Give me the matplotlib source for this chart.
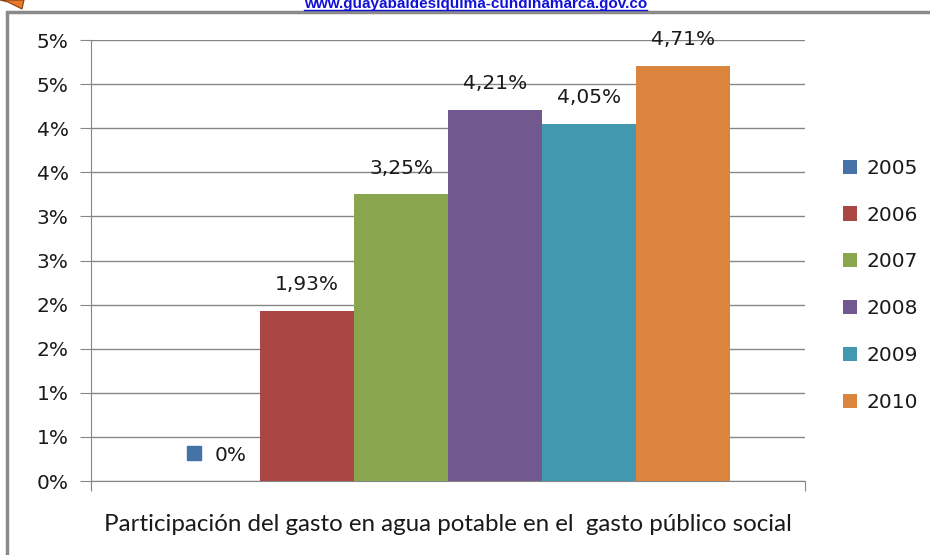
import matplotlib
matplotlib.use('Agg')
import matplotlib.pyplot as plt
from matplotlib.patches import Rectangle, Polygon
from matplotlib.lines import Line2D
from matplotlib.transforms import offset_copy

# data
years = ['2005', '2006', '2007', '2008', '2009', '2010']
values = [0.0, 1.93, 3.25, 4.21, 4.05, 4.71]
colors = ['#4572A7', '#AA4643', '#89A54E', '#71588F', '#4198AF', '#DB843D']
ytick_vals = [0, 0.5, 1.0, 1.5, 2.0, 2.5, 3.0, 3.5, 4.0, 4.5, 5.0]
ytick_labels = ['0%', '1%', '1%', '2%', '2%', '3%', '3%', '4%', '4%', '5%', '5%']
xlabel = 'Participación del gasto en agua potable en el  gasto público social'
url = 'www.guayabaldesiquima-cundinamarca.gov.co'

plt.rcParams['font.family'] = ['DejaVu Sans']
grey = '#868686'
txt = '#1a1a1a'

fig = plt.figure(figsize=(9.3, 5.55), dpi=100)
ax = fig.add_axes([0.0978, 0.1333, 0.7677, 0.7946])

xs = list(range(len(years)))
bars = ax.bar(xs, values, width=1.0, color=colors, label=years, zorder=3)

ax.set_xlim(-1.3, 6.3)
ax.set_ylim(0, 5.0)
ax.set_yticks(ytick_vals)
ax.set_yticklabels(ytick_labels, fontsize=14.5, color=txt)
ax.set_xticks([-1.3, 6.3])
ax.set_xticklabels([])
ax.tick_params(axis='y', length=8, color=grey, pad=8)
ax.tick_params(axis='x', length=7, color=grey)
ax.yaxis.grid(True, color=grey, linewidth=1, zorder=0)
for side in ['top', 'right']:
    ax.spines[side].set_visible(False)
for side in ['left', 'bottom']:
    ax.spines[side].set_color(grey)
ax.spines['left'].set_bounds(-0.08, 5.0)

# data labels
up = offset_copy(ax.transData, fig=fig, x=0, y=26, units='dots')
for x, v, c in zip(xs, values, colors):
    if v == 0:
        mk = offset_copy(ax.transData, fig=fig, x=-19, y=28, units='dots')
        ax.plot([x], [v], marker='s', color=c, markersize=10, transform=mk,
                clip_on=False, linestyle='none')
        tx = offset_copy(ax.transData, fig=fig, x=18, y=26, units='dots')
        ax.text(x, v, '0%', transform=tx, ha='center', va='center',
                fontsize=14.5, color=txt)
    else:
        lab = f'{v:.2f}'.replace('.', ',') + '%'
        ax.text(x, v, lab, transform=up, ha='center', va='center',
                fontsize=14.5, color=txt)

ax.set_xlabel(xlabel, fontsize=17.4, labelpad=13, color=txt, family=['Lato', 'DejaVu Sans'])

fig.legend(handles=bars, labels=years, loc='center left',
           bbox_to_anchor=(0.896, 0.486), frameon=False, fontsize=14.5,
           handlelength=0.7, handleheight=0.7, handletextpad=0.45,
           labelspacing=1.38, borderpad=0, labelcolor=txt)

# outer frame and header
fig.patches.append(Rectangle((7 / 930, -0.1), 1.1, 1.1 - 12 / 555,
                             transform=fig.transFigure, fill=False,
                             edgecolor='#8a8a8a', linewidth=2.5))
fig.patches.append(Polygon([(0, 1), (24 / 930, 1), (22 / 930, 1 - 9 / 555),
                            (8 / 930, 1 - 2 / 555)],
                           closed=True, transform=fig.transFigure,
                           facecolor='#E8782A', edgecolor='#8a4010', linewidth=0.8))
t = fig.text(0.511, 1 - 8 / 555, url, ha='center', va='baseline', color='#1010D8',
             fontsize=11, fontweight='bold', family=['Liberation Sans', 'DejaVu Sans'])
fig.canvas.draw()
bb = t.get_window_extent()
fig.add_artist(Line2D([bb.x0 / 930, bb.x1 / 930], [1 - 10 / 555, 1 - 10 / 555],
                      transform=fig.transFigure, color='#1010D8', linewidth=1))

fig.savefig('out.png', dpi=100)
